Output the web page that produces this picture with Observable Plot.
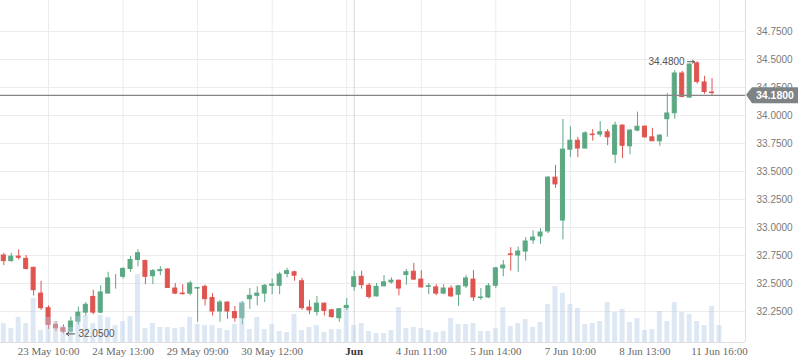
<!DOCTYPE html>
<html><head><meta charset="utf-8">
<script src="https://cdn.jsdelivr.net/npm/d3@7"></script>
<script src="https://cdn.jsdelivr.net/npm/@observablehq/plot@0.6"></script>
<style>body{margin:0;background:#fff}#chart{position:relative;width:798px;height:363px}</style>
</head><body><div id="chart"></div>
<script>
const open  = [32.75,32.70,32.74,32.72,32.64,32.41,32.28,32.13,32.10,32.07,32.16,32.24,32.38,32.24,32.41,32.54,32.56,32.63,32.71,32.70,32.565,32.61,32.625,32.455,32.41,32.41,32.455,32.47,32.37,32.25,32.33,32.245,32.19,32.36,32.39,32.41,32.48,32.48,32.585,32.60,32.52,32.285,32.245,32.32,32.26,32.19,32.28,32.47,32.56,32.48,32.385,32.475,32.51,32.525,32.575,32.605,32.535,32.47,32.465,32.41,32.455,32.40,32.475,32.535,32.37,32.375,32.48,32.635,32.76,32.75,32.785,32.885,32.92,32.965,33.445,33.0625,33.695,33.775,33.705,33.83,33.83,33.85,33.65,33.91,33.725,33.865,33.90,33.805,33.77,33.967,34.02,34.375,34.16,34.465,34.295,34.205,34.18];
const high  = [32.77,32.77,32.80,32.75,32.645,32.52,32.30,32.16,32.13,32.20,32.29,32.33,32.44,32.48,32.60,32.58,32.64,32.74,32.80,32.71,32.625,32.65,32.63,32.50,32.49,32.52,32.46,32.485,32.41,32.35,32.335,32.295,32.34,32.455,32.47,32.49,32.54,32.60,32.635,32.61,32.545,32.35,32.385,32.325,32.27,32.275,32.365,32.61,32.61,32.50,32.50,32.57,32.55,32.53,32.625,32.68,32.615,32.50,32.49,32.49,32.48,32.48,32.57,32.615,32.455,32.50,32.645,32.705,32.82,32.825,32.91,32.97,32.99,33.455,33.555,33.965,33.90,33.805,33.855,33.875,33.945,33.875,33.94,33.915,33.875,34.03,33.91,33.885,33.83,34.196,34.40,34.395,34.46,34.48,34.35,34.33,34.18];
const low   = [32.66,32.69,32.71,32.62,32.39,32.26,32.09,32.07,32.05,32.06,32.13,32.21,32.22,32.23,32.41,32.45,32.54,32.60,32.65,32.49,32.49,32.57,32.455,32.40,32.395,32.39,32.155,32.30,32.21,32.155,32.18,32.155,32.13,32.27,32.30,32.33,32.40,32.40,32.55,32.52,32.26,32.22,32.21,32.21,32.19,32.155,32.26,32.43,32.45,32.36,32.38,32.47,32.495,32.39,32.485,32.525,32.46,32.40,32.39,32.40,32.375,32.295,32.455,32.34,32.35,32.365,32.455,32.56,32.61,32.60,32.70,32.85,32.85,32.945,33.35,32.89,33.625,33.625,33.70,33.77,33.805,33.73,33.57,33.615,33.65,33.855,33.795,33.77,33.725,33.806,33.967,34.16,34.155,34.28,34.19,34.18,34.18];
const close = [32.70,32.74,32.73,32.63,32.44,32.28,32.13,32.10,32.07,32.16,32.24,32.31,32.24,32.42,32.545,32.54,32.63,32.71,32.77,32.56,32.61,32.62,32.46,32.41,32.405,32.50,32.46,32.36,32.25,32.33,32.25,32.19,32.32,32.39,32.41,32.48,32.49,32.58,32.61,32.57,32.28,32.26,32.32,32.255,32.20,32.27,32.30,32.555,32.485,32.38,32.47,32.51,32.525,32.455,32.60,32.535,32.465,32.475,32.41,32.455,32.385,32.475,32.545,32.375,32.375,32.475,32.635,32.66,32.755,32.785,32.875,32.91,32.955,33.445,33.385,33.695,33.775,33.705,33.84,33.825,33.85,33.805,33.91,33.73,33.865,33.90,33.805,33.77,33.82,34.018,34.375,34.165,34.455,34.30,34.21,34.20,34.18];
const volume = [1900,1400,2500,1900,4400,1200,2500,2100,1600,1500,2600,2700,1900,2700,2500,1700,2100,2600,6800,1400,1900,1500,1500,1400,1500,2500,1800,1700,1700,1400,1200,1800,4100,1300,2500,1300,1800,1100,1000,2800,1200,1500,1700,1000,1300,1300,3300,1700,1900,1100,900,900,1200,3500,1400,1500,1400,1200,1000,1100,2400,1800,1800,1900,1100,1100,1400,3500,1600,1900,2300,1500,2000,3800,5600,4900,3800,3400,1800,1900,2100,4000,3000,3300,2000,2400,1200,1300,3100,2100,4000,3000,2800,2100,1700,3600,1700];
const xTickIndex  = [6,16,26,36,47,56,66,76,86,96];
const xTickLabels = ["23 May 10:00","24 May 13:00","29 May 09:00","30 May 12:00","Jun","4 Jun 11:00","5 Jun 14:00","7 Jun 10:00","8 Jun 13:00","11 Jun 16:00"];
const xGridIndex  = [6,16,26,36,46,56,66,76,86,96];
const monthIndex  = 47;
const yTicks = [32.25,32.5,32.75,33.0,33.25,33.5,33.75,34.0,34.25,34.5,34.75];
const lastPrice = 34.18;
const minInfo = {i: 8, v: 32.05};
const maxInfo = {i: 93, v: 34.48};

const W = 798, H = 363, ML = 0, MR = 53, MT = 0, MB = 21;
const xDom = [-0.4427, 99.49];
const yDom = [31.9732, 35.0268];
const GREEN = "#5ba883", RED = "#e05450", GRAY = "#8a8a8a";

const candles = open.map((o, i) => ({i, o, h: high[i], l: low[i], c: close[i]}));
const col = d => d.c > d.o ? GREEN : d.c < d.o ? RED : GRAY;
const xLabels = xTickIndex.map((i, k) => ({i, t: xTickLabels[k]}));
const sans = "Liberation Sans, Arial, sans-serif";
const serif = "Liberation Serif, Times New Roman, serif";

const main = Plot.plot({
  width: W, height: H, marginLeft: ML, marginRight: MR, marginTop: MT, marginBottom: MB,
  x: {domain: xDom, axis: null},
  y: {domain: yDom, axis: null},
  style: {background: "white", overflow: "visible"},
  marks: [
    Plot.ruleY(yTicks, {stroke: "#ececec", strokeWidth: 1}),
    Plot.ruleX(xGridIndex, {stroke: "#e7ecf0", strokeWidth: 1}),
    Plot.ruleX([monthIndex], {stroke: "#d9d9d9", strokeWidth: 1}),
    Plot.ruleX([xDom[1]], {stroke: "#dedede", strokeWidth: 1}),
    Plot.ruleY([yDom[0]], {stroke: "#dedede", strokeWidth: 1}),
    Plot.ruleX(candles, {x: "i", y1: "l", y2: "h", stroke: col, strokeWidth: 1}),
    Plot.rect(candles, {x1: d => d.i - 0.27, x2: d => d.i + 0.27, y1: "o", y2: "c", fill: col, stroke: col, strokeWidth: 1}),
    Plot.ruleY([lastPrice], {stroke: "#858585", strokeWidth: 1.3}),
    Plot.text(yTicks, {y: d => d, text: d => d.toFixed(4), frameAnchor: "right", textAnchor: "start", dx: 11, fontSize: 10, fontFamily: sans, fill: "#7a7a7a"}),
    Plot.text(xLabels.filter(d => d.i !== monthIndex), {x: "i", text: "t", frameAnchor: "bottom", dy: 12, fontSize: 11, fontFamily: serif, fill: "#6a6a6a"}),
    Plot.text(xLabels.filter(d => d.i === monthIndex), {x: "i", text: "t", frameAnchor: "bottom", dy: 12, fontSize: 11, fontFamily: serif, fontWeight: "bold", fill: "#333"}),
    // min annotation: arrow pointing at the low, then the value
    Plot.arrow([minInfo], {x1: d => d.i + 1.5, x2: d => d.i + 0.4, y1: "v", y2: "v", stroke: "#555", strokeWidth: 1, headLength: 5, headAngle: 70}),
    Plot.text([minInfo], {x: "i", y: "v", text: d => d.v.toFixed(4), textAnchor: "start", dx: 15, fontSize: 10, fontFamily: sans, fill: "#555"}),
    // max annotation: value, then arrow pointing at the high
    Plot.arrow([maxInfo], {x1: d => d.i - 1.3, x2: d => d.i - 0.35, y1: "v", y2: "v", stroke: "#555", strokeWidth: 1, headLength: 5, headAngle: 70}),
    Plot.text([maxInfo], {x: "i", y: "v", text: d => d.v.toFixed(4), textAnchor: "end", dx: -12.5, fontSize: 10, fontFamily: sans, fill: "#555"})
  ]
});

const vol = Plot.plot({
  width: W, height: H, marginLeft: ML, marginRight: MR, marginTop: MT, marginBottom: MB,
  x: {domain: xDom, axis: null},
  y: {domain: [0, 34200], axis: null},
  marks: [
    Plot.rect(volume.map((v, i) => ({i, v})), {x1: d => d.i - 0.33, x2: d => d.i + 0.33, y1: 0, y2: "v", fill: "#b3cde6", fillOpacity: 0.45})
  ]
});

// Volume bars sit just above the candle bodies in the main chart
const volG = vol.querySelector('g[aria-label="rect"]');
const candleRects = main.querySelector('g[aria-label="rect"]');
candleRects.after(volG);

// Last price tag on the right axis
const py = main.scale("y").apply(lastPrice);
const px = main.scale("x").apply(xDom[1]);
const tag = d3.select(main).append("g");
tag.append("path")
  .attr("d", `M${px + 1},${py} L${px + 7},${py - 7.5} L${W},${py - 7.5} L${W},${py + 8.5} L${px + 7},${py + 8.5} Z`)
  .attr("fill", "#7e8385");
tag.append("text")
  .attr("x", px + 11).attr("y", py + 0.5).attr("dy", "0.35em")
  .attr("text-anchor", "start")
  .attr("fill", "white").attr("font-weight", "bold")
  .attr("font-family", sans).attr("font-size", 10.5)
  .text(lastPrice.toFixed(4));

document.getElementById("chart").appendChild(main);
</script>
</body></html>
